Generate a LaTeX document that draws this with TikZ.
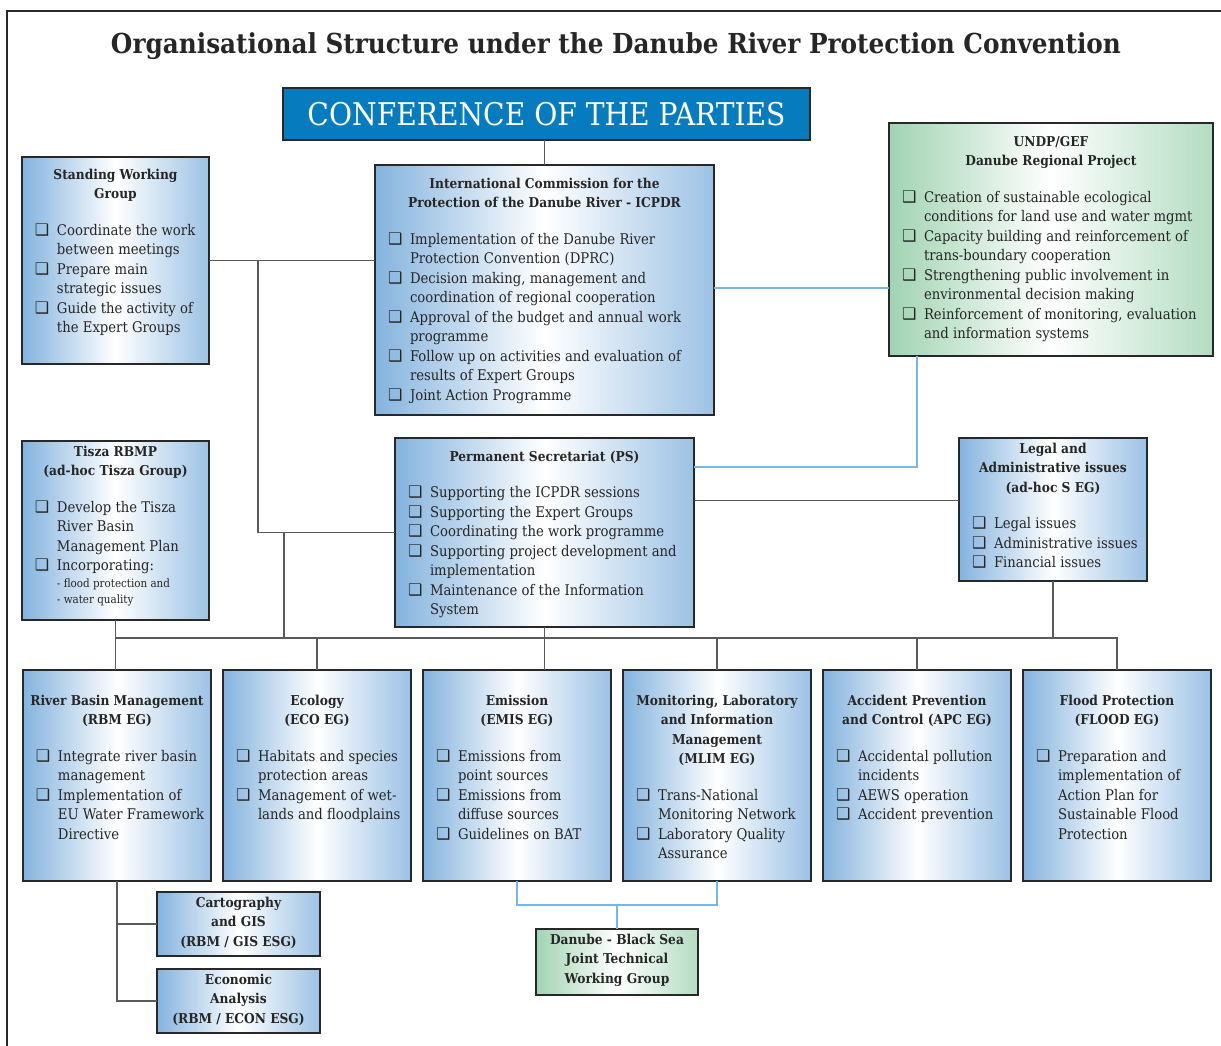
\documentclass[tikz,border=0pt]{standalone}
\usepackage{fontspec}
\IfFontExistsTF{DejaVu Serif Condensed}
  {\setmainfont{DejaVu Serif Condensed}}
  {\setmainfont{Liberation Serif}}
\newfontfamily\dingfont{DejaVu Sans}
\usetikzlibrary{positioning}

\definecolor{copblue}{RGB}{6,124,191}
\definecolor{boxblue}{RGB}{132,179,222}
\definecolor{boxgreen}{RGB}{160,211,178}
\definecolor{edgegray}{RGB}{40,40,40}
\definecolor{linkgray}{RGB}{90,90,90}
\definecolor{linkblue}{RGB}{122,182,226}

\newcommand{\bodyfont}{\fontsize{14.7}{19.5}\selectfont}
\newcommand{\headfont}{\bfseries\fontsize{13.6}{19.5}\selectfont}
\newcommand{\bul}{\makebox[22pt][l]{\dingfont\fontsize{16}{16}\selectfont ❑}}
\newcommand{\itm}{\par\noindent\hangindent=22pt\hangafter=1\bul}
\newcommand{\subitems}[1]{\par{\leftskip=35pt\fontsize{11.5}{16.5}\selectfont #1\par}}
% box text: width, height, top gap, heading, items
\newcommand{\unitbody}[5]{%
  \parbox[t][#2][t]{#1}{\vspace*{#3}%
    {\headfont\centering\leftskip=0pt plus 1fil minus 100pt\rightskip=\leftskip #4\par}%
    \vspace{17pt}%
    {\bodyfont\raggedright\let\\\newline
     \leftskip=13pt\rightskip=0pt plus 1fil minus 200pt #5\par}}}
% box with heading only: width, height, top gap, text
\newcommand{\namebody}[4]{%
  \parbox[t][#2][t]{#1}{\vspace*{#3}%
    {\headfont\centering\leftskip=0pt plus 1fil minus 100pt\rightskip=\leftskip #4\par}}}

\begin{document}
\begin{tikzpicture}[x=1pt,y=-1pt,text=black!85,
  conf/.style={draw=edgegray,line width=2pt,fill=copblue,text=white,minimum width=527pt,minimum height=52pt,
    inner sep=0pt,outer sep=0pt,anchor=north west,font=\fontsize{31.3}{36}\selectfont},
  unit/.style={draw=edgegray,line width=2pt,left color=boxblue,right color=boxblue!80!white,middle color=white,
    inner sep=0pt,outer sep=0pt,anchor=north west},
  greenunit/.style={unit,left color=boxgreen,right color=boxgreen!80!white,middle color=white},
  link/.style={draw=linkgray,line width=1.3pt},
  bluelink/.style={draw=linkblue,line width=1.5pt}]
  \useasboundingbox (0,0) rectangle (1221,1046);
  \draw[edgegray,line width=1.5pt] (7,1046) -- (7,11) -- (1221,11);

  \node[anchor=base,font=\bfseries\fontsize{27.5}{30}\selectfont] (title) at (616,54)
    {Organisational Structure under the Danube River Protection Convention};
  \node[conf] (cop) at (283,88) {CONFERENCE OF THE PARTIES};

  % upper level
  \node[unit] (icpdr) at (375,165) {\unitbody{339pt}{250pt}{13pt}
    {International Commission for the\\Protection of the Danube River - ICPDR}
    {\itm Implementation of the Danube River\\Protection Convention (DPRC)
     \itm Decision making, management and\\coordination of regional cooperation
     \itm Approval of the budget and annual work\\programme
     \itm Follow up on activities and evaluation of\\results of Expert Groups
     \itm Joint Action Programme}};
  \node[unit] (swg) at (22,157) {\unitbody{187pt}{207pt}{12pt}
    {Standing Working\\Group}
    {\itm Coordinate the work\\between meetings
     \itm Prepare main\\strategic issues
     \itm Guide the activity of\\the Expert Groups}};
  \node[greenunit] (undp) at (889,123) {\unitbody{324pt}{233pt}{13pt}
    {UNDP/GEF\\Danube Regional Project}
    {\itm Creation of sustainable ecological\\conditions for land use and water mgmt
     \itm Capacity building and reinforcement of\\trans-boundary cooperation
     \itm Strengthening public involvement in\\environmental decision making
     \itm Reinforcement of monitoring, evaluation\\and information systems}};
  \node[unit] (tisza) at (22,441) {\unitbody{187pt}{179pt}{5pt}
    {Tisza RBMP\\(ad-hoc Tisza Group)}
    {\itm Develop the Tisza\\River Basin\\Management Plan
     \itm Incorporating:
     \subitems{- flood protection and\\- water quality}}};
  \node[unit] (ps) at (395,438) {\unitbody{299pt}{189pt}{13pt}
    {Permanent Secretariat (PS)}
    {\itm Supporting the ICPDR sessions
     \itm Supporting the Expert Groups
     \itm Coordinating the work programme
     \itm Supporting project development and\\implementation
     \itm Maintenance of the Information\\System}};
  \node[unit] (legal) at (959,438) {\unitbody{188pt}{143pt}{5pt}
    {Legal and\\Administrative issues\\(ad-hoc S EG)}
    {\itm Legal issues
     \itm Administrative issues
     \itm Financial issues}};

  % expert groups
  \node[unit] (rbm) at (23,670) {\unitbody{188pt}{211pt}{25pt}
    {River Basin Management\\(RBM EG)}
    {\itm Integrate river basin\\management
     \itm Implementation of\\EU Water Framework\\Directive}};
  \node[unit,right=12pt of rbm] (eco) {\unitbody{188pt}{211pt}{25pt}
    {Ecology\\(ECO EG)}
    {\itm Habitats and species\\protection areas
     \itm Management of wet-\\lands and floodplains}};
  \node[unit,right=12pt of eco] (emis) {\unitbody{188pt}{211pt}{25pt}
    {Emission\\(EMIS EG)}
    {\itm Emissions from\\point sources
     \itm Emissions from\\diffuse sources
     \itm Guidelines on BAT}};
  \node[unit,right=12pt of emis] (mlim) {\unitbody{188pt}{211pt}{25pt}
    {Monitoring, Laboratory\\and Information\\Management\\(MLIM EG)}
    {\itm Trans-National\\Monitoring Network
     \itm Laboratory Quality\\Assurance}};
  \node[unit,right=12pt of mlim] (apc) {\unitbody{188pt}{211pt}{25pt}
    {Accident Prevention\\and Control (APC EG)}
    {\itm Accidental pollution\\incidents
     \itm AEWS operation
     \itm Accident prevention}};
  \node[unit,right=12pt of apc] (flood) {\unitbody{188pt}{211pt}{25pt}
    {Flood Protection\\(FLOOD EG)}
    {\itm Preparation and\\implementation of\\Action Plan for\\Sustainable Flood\\Protection}};

  % sub groups
  \node[unit] (gis) at (157,892) {\namebody{163pt}{64pt}{5pt}{Cartography\\and GIS\\(RBM / GIS ESG)}};
  \node[unit,below=13pt of gis] (econ) {\namebody{163pt}{64pt}{5pt}{Economic\\Analysis\\(RBM / ECON ESG)}};
  \node[greenunit] (jtwg) at (536,929) {\namebody{162pt}{66pt}{5pt}{Danube - Black Sea\\Joint Technical\\Working Group}};

  % connectors
  \coordinate (spineA) at (258,0);
  \coordinate (spineB) at (284,0);
  \coordinate (bus) at (0,638);
  \coordinate (blueA) at (0,288);
  \coordinate (blueB) at (917,467);
  \coordinate (blueC) at (0,905);
  \draw[link] (icpdr.north) -- (icpdr.north |- cop.south);
  \draw[link] (swg.east) -- (swg.east -| icpdr.west);
  \draw[link] (spineA |- swg.east) |- (ps.west);
  \draw[link] (spineB |- ps.west) -- (spineB |- bus);
  \draw[link] ([yshift=9pt]legal.west) -- ([yshift=9pt]legal.west -| ps.east);
  \draw[link] (tisza.south) -- (tisza.south |- rbm.north);
  \draw[link] (tisza.south |- bus) -- (flood.north |- bus) -- (flood.north);
  \draw[link] (eco.north) -- (eco.north |- bus);
  \draw[link] (ps.south) -- (ps.south |- emis.north);
  \draw[link] (mlim.north) -- (mlim.north |- bus);
  \draw[link] (apc.north) -- (apc.north |- bus);
  \draw[link] (legal.south) -- (legal.south |- bus);
  \draw[link] (rbm.south) |- (gis.west);
  \draw[link] (rbm.south) |- (econ.west);
  \draw[bluelink] (undp.west |- blueA) -- (icpdr.east |- blueA);
  \draw[bluelink] (undp.south -| blueB) |- (ps.east |- blueB);
  \draw[bluelink] (emis.south) |- (blueC -| jtwg.north) -| (mlim.south);
  \draw[bluelink] (jtwg.north) -- (jtwg.north |- blueC);
\end{tikzpicture}
\end{document}
